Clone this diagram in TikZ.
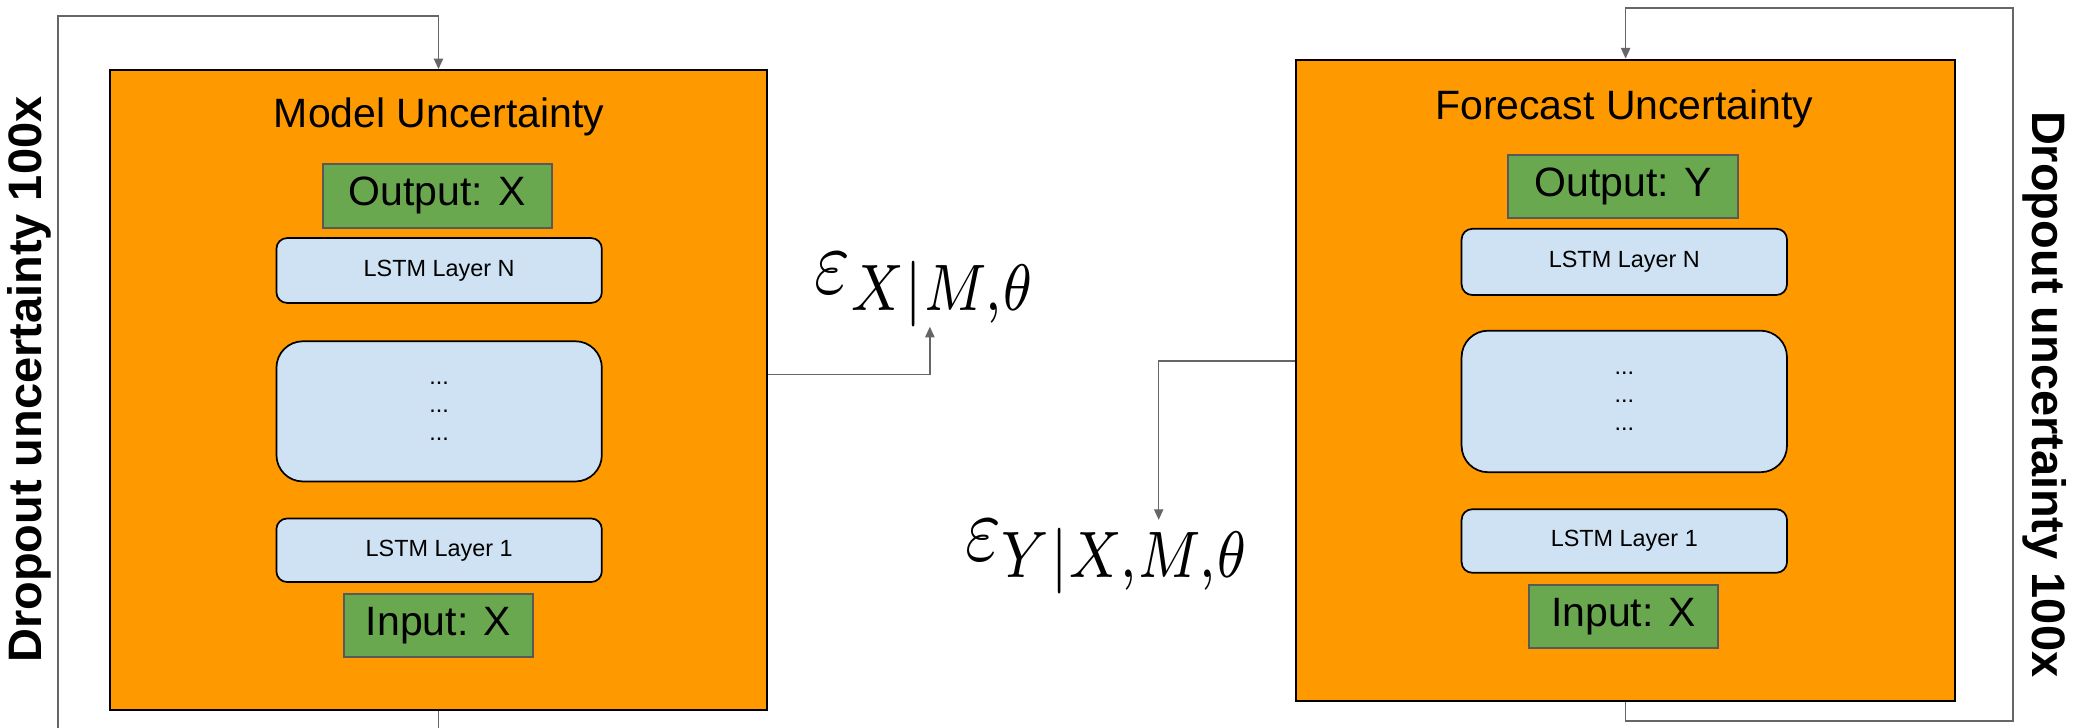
\documentclass[tikz,border=0pt]{standalone}
\usepackage[no-math]{fontspec}
\usepackage{graphicx}
\setmainfont{Liberation Sans}
\usetikzlibrary{arrows.meta}
\definecolor{orng}{HTML}{FF9900}
\definecolor{grn}{HTML}{6AA84F}
\definecolor{lblue}{HTML}{CFE2F3}
\definecolor{conn}{HTML}{666666}
\definecolor{gbord}{HTML}{595959}
\tikzset{
  panel/.style={draw=black, fill=orng, line width=1.5pt, minimum width=#1, inner sep=0pt},
  iobox/.style={draw=gbord, fill=grn, line width=1.5pt, inner sep=0pt, minimum height=48pt,
     font=\fontsize{31}{36}\selectfont},
  layerbox/.style={draw=black, fill=lblue, line width=1.3pt, rounded corners=8pt, inner sep=0pt,
     minimum width=246pt, font=\fontsize{17.7}{21}\selectfont, align=center},
  dotsbox/.style={layerbox, rounded corners=20pt},
  ttl/.style={font=\fontsize{31}{36}\selectfont, inner sep=0pt},
  drop/.style={font=\bfseries\fontsize{35.5}{40}\selectfont, inner sep=0pt},
  eps/.style={font=\fontsize{10}{12}\selectfont, inner sep=0pt},
  link/.style={draw=conn, line width=1.1pt},
  arr/.style={link, -{Triangle[length=8pt,width=7pt]}}
}
\begin{document}
\begin{tikzpicture}[x=1pt,y=-1pt]
\useasboundingbox (0,0) rectangle (1568,550);
\fill[white] (0,0) rectangle (1568,550);

% left panel
\node[panel=497pt, minimum height=484pt] (boxL) at (331.5,295) {};
\node[ttl] (ttlL) at (332,88) {Model Uncertainty};
\node[iobox, minimum width=173pt] (outL) at (330.5,148) {Output: X};
\node[layerbox, minimum height=49pt] (nL) at (332,204.5) {LSTM Layer N};
\node[dotsbox, minimum height=106pt] (dL) at (332,311) {...\\...\\...};
\node[layerbox, minimum height=48pt] (oneL) at (332,416) {LSTM Layer 1};
\node[iobox, minimum width=143pt] (inL) at (331.5,473) {Input: X};

% right panel
\node[panel=498pt, minimum height=485pt] (boxR) at (1229,287.5) {};
\node[ttl] (ttlR) at (1228,82) {Forecast Uncertainty};
\node[iobox, minimum width=174pt] (outR) at (1227,141) {Output: Y};
\node[layerbox, minimum height=50pt] (nR) at (1228,198) {LSTM Layer N};
\node[dotsbox, minimum height=107pt] (dR) at (1228,303.5) {...\\...\\...};
\node[layerbox, minimum height=48pt] (oneR) at (1228,409) {LSTM Layer 1};
\node[iobox, minimum width=143pt] (inR) at (1227.5,466) {Input: X};

% side labels
\node[drop, rotate=90] (dropL) at (22,287) {Dropout uncertainty 100x};
\node[drop, rotate=-90] (dropR) at (1546,298) {Dropout uncertainty 100x};

% error labels
\node[eps, anchor=south] (epsX) at (700,247) {\scalebox{5.8}[7.1]{$\varepsilon_{X|M,\theta}$}};
\node[eps, anchor=north] (epsY) at (838,393) {\scalebox{5.8}[7.1]{$\varepsilon_{Y|X,M,\theta}$}};

% feedback loops
\coordinate (lb) at (44,570);
\coordinate (lt) at (44,12);
\draw[arr] (boxL.south) -- (boxL.south |- lb) -- (lb) -- (lt) -| (boxL.north);
\coordinate (rb) at (1522,545);
\coordinate (rt) at (1522,6);
\draw[arr] (boxR.south) -- (boxR.south |- rb) -- (rb) -- (rt) -| (boxR.north);

% error arrows
\coordinate (ex) at (703,283);
\draw[arr] (boxL.east |- ex) -- (ex) -- (ex |- epsX.south);
\coordinate (ey) at (876,273);
\draw[arr] (boxR.west |- ey) -- (ey) -- (ey |- epsY.north);
\end{tikzpicture}
\end{document}
